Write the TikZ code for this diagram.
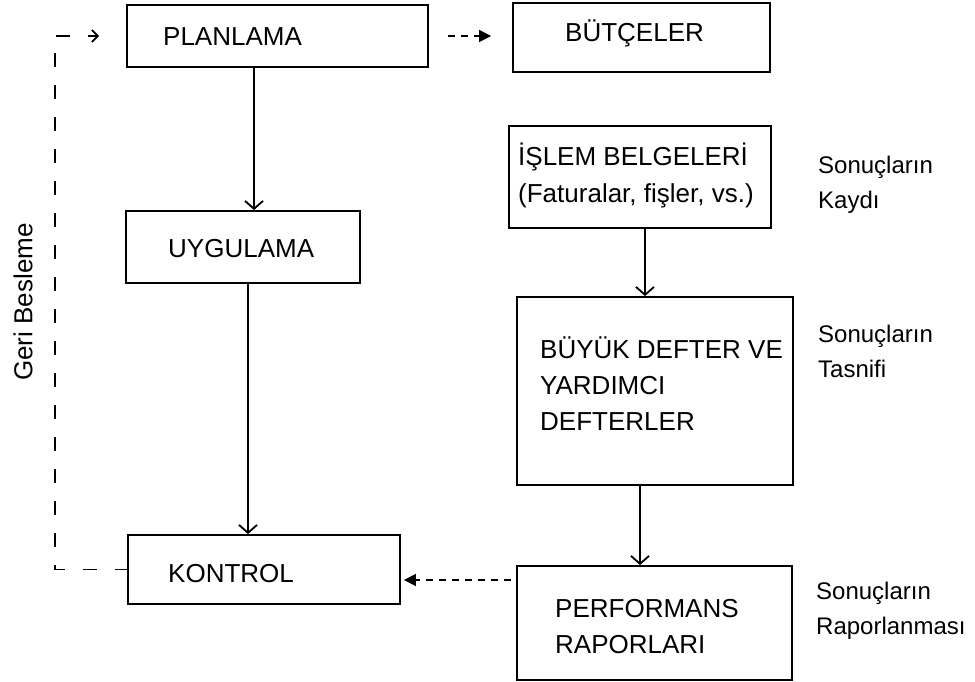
\documentclass[tikz,border=0pt]{standalone}
\usepackage{fontspec}
\setmainfont{Liberation Sans}
\usetikzlibrary{arrows.meta}
\begin{document}
\begin{tikzpicture}[x=1pt,y=-1pt,
  box/.style={draw, line width=1.8pt, inner sep=0pt},
  lab/.style={font=\fontsize{26}{36}\selectfont, inner sep=0pt, align=left, anchor=base west},
  side/.style={font=\fontsize{24}{35}\selectfont, inner sep=0pt, align=left, anchor=base west},
  flow/.style={line width=1.6pt, -{Straight Barb[length=8pt,width=18pt,line width=1.8pt]}},
  dflow/.style={line width=1.6pt, dash pattern=on 7pt off 6pt, -{Triangle[length=12pt,width=12pt]}},
  fbline/.style={line width=1.8pt, dash pattern=on 14pt off 18pt, dash phase=1.5pt, -{Straight Barb[length=6pt,width=12pt,line width=1.8pt]}}]
\useasboundingbox (0,0) rectangle (975,682);
\fill[white] (0,0) rectangle (975,682);

% boxes
\node[box, minimum width=301pt, minimum height=62pt] (plan) at (277.5,36) {};
\node[box, minimum width=257pt, minimum height=69pt] (but) at (641.5,37.5) {};
\node[box, minimum width=262pt, minimum height=102pt] (isl) at (640,177) {};
\node[box, minimum width=234pt, minimum height=72pt] (uyg) at (243,247) {};
\node[box, minimum width=276pt, minimum height=188pt] (buy) at (655,391) {};
\node[box, minimum width=272pt, minimum height=69pt] (kon) at (264,569.5) {};
\node[box, minimum width=275pt, minimum height=114pt] (perf) at (654.5,623) {};

% box texts (base = baseline of last line)
\node[lab] (planT) at (163,46) {PLANLAMA};
\node[lab] (butT) at (565,42) {BÜTÇELER};
\node[lab] (islT) at (518,202) {İŞLEM BELGELERİ\\(Faturalar, fişler, vs.)};
\node[lab] (uygT) at (168,257) {UYGULAMA};
\node[lab] (buyT) at (540,430) {BÜYÜK DEFTER VE\\YARDIMCI\\DEFTERLER};
\node[lab] (konT) at (168,582) {KONTROL};
\node[lab] (perfT) at (555,653) {PERFORMANS\\RAPORLARI};

% side labels
\node[side] (s1) at (818,208) {Sonuçların\\Kaydı};
\node[side] (s2) at (818,377) {Sonuçların\\Tasnifi};
\node[side] (s3) at (816,634) {Sonuçların\\Raporlanması};
\node[font=\fontsize{26}{30}\selectfont, inner sep=0pt, rotate=90] (geri) at (23,302) {Geri Besleme};

% connectors
\draw[flow] ([xshift=-23.5pt]plan.south) -- ([xshift=11pt]uyg.north);
\draw[flow] ([xshift=5pt]uyg.south) -- ([xshift=-16pt]kon.north);
\draw[flow] ([xshift=5pt]isl.south) -- ([xshift=-10pt]buy.north);
\draw[flow] ([xshift=-15pt]buy.south) -- ([xshift=-14.5pt]perf.north);
\draw[dflow, shorten <=19pt, shorten >=21pt] (plan.east) -- ([yshift=1.5pt]but.west);
\draw[dflow, shorten <=5pt, shorten >=3pt] ([yshift=43pt]perf.west) -- ([yshift=-10.5pt]kon.east);
\coordinate (fbc) at (55,300);
\draw[fbline, shorten >=27pt] (kon.west) -| (fbc) |- (plan.west);
\end{tikzpicture}
\end{document}
